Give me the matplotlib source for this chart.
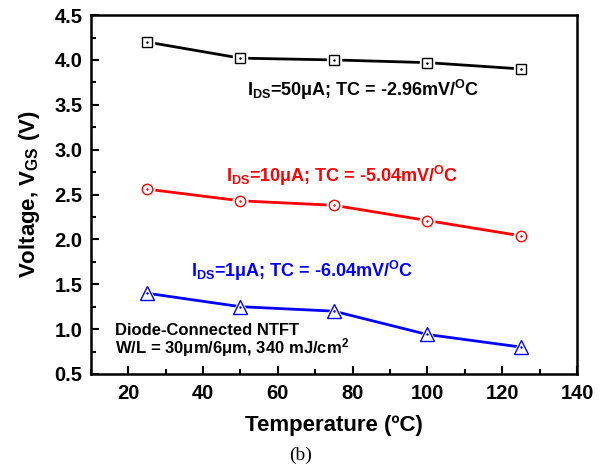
import matplotlib
matplotlib.use("Agg")
import matplotlib.pyplot as plt
from matplotlib.ticker import MultipleLocator

# datos
temperatura = [25, 50, 75, 100, 125]
vgs_50uA = [4.20, 4.02, 4.00, 3.97, 3.90]
vgs_10uA = [2.56, 2.43, 2.38, 2.21, 2.04]
vgs_1uA = [1.40, 1.25, 1.20, 0.94, 0.80]

etiquetas = [r"I$_{\mathregular{DS}}$=50μA; TC = -2.96mV/$^{\mathregular{O}}$C",
             r"I$_{\mathregular{DS}}$=10μA; TC = -5.04mV/$^{\mathregular{O}}$C",
             r"I$_{\mathregular{DS}}$=1μA; TC = -6.04mV/$^{\mathregular{O}}$C"]

plt.rcParams['font.family'] = ['Liberation Sans', 'DejaVu Sans']
plt.rcParams['font.weight'] = 'bold'
plt.rcParams['mathtext.fontset'] = 'custom'
plt.rcParams['mathtext.rm'] = 'Liberation Sans:bold'
plt.rcParams['mathtext.it'] = 'Liberation Sans:bold'
plt.rcParams['mathtext.bf'] = 'Liberation Sans:bold'

fig = plt.figure(figsize=(6.01, 4.71), dpi=100)
ax = fig.add_axes([0.151, 0.206, 0.809, 0.762])

#-----------------------------------------------------------------------------------------------
series = [(vgs_50uA, 'black', 's', 6.5), (vgs_10uA, '#ff0000', 'o', 7.5), (vgs_1uA, '#0000ff', '^', 9.5)]
for valores, color, marca, tam in series:
    ax.plot(temperatura, valores, color=color, lw=2, zorder=2)
    # hueco blanco alrededor del marcador
    ax.plot(temperatura, valores, ls='none', marker=marca, ms=tam + 3, mfc='white', mec='white', zorder=3)
    ax.plot(temperatura, valores, ls='none', marker=marca, ms=tam, mfc='white', mec=color, mew=1, zorder=4)
    ax.plot(temperatura, valores, ls='none', marker='.', ms=1.5, color=color, zorder=5)

#-----------------------------------------------------------------------------------------------
ax.text(82.7, 3.66, etiquetas[0], color='black', fontsize=13, ha='center', va='center')
ax.text(77.3, 2.71, etiquetas[1], color='#ff0000', fontsize=13, ha='center', va='center')
ax.text(66.5, 1.65, etiquetas[2], color='#0000ff', fontsize=13, ha='center', va='center')
ax.text(16.5, 0.99, "Diode-Connected NTFT", fontsize=12, ha='left', va='center')
ax.text(16.5, 0.79, r"W/L = 30μm/6μm, 340 mJ/cm$^{\mathregular{2}}$", fontsize=12, ha='left', va='center')

#-----------------------------------------------------------------------------------------------
ax.set_xlim(10, 140)
ax.set_ylim(0.5, 4.5)
ax.xaxis.set_major_locator(MultipleLocator(20))
ax.xaxis.set_minor_locator(MultipleLocator(10))
ax.yaxis.set_major_locator(MultipleLocator(0.5))
ax.yaxis.set_minor_locator(MultipleLocator(0.25))
ax.yaxis.set_major_formatter(matplotlib.ticker.FormatStrFormatter('%.1f'))
ax.tick_params(which='major', direction='in', length=6, width=1.5, labelsize=14.5)
ax.tick_params(axis='x', which='major', pad=7)
ax.tick_params(axis='y', which='major', pad=6)
ax.tick_params(which='minor', direction='in', length=3.5, width=1.5)
for s in ax.spines.values():
    s.set_linewidth(1.8)

ax.set_xlabel("Temperature (ºC)", fontsize=16, fontweight='bold', labelpad=9)
ax.set_ylabel(r"Voltage, V$_{\mathregular{GS}}$ (V)", fontsize=16, fontweight='bold', labelpad=9)

fig.text(0.5, 0.033, "(b)", family='Liberation Serif', fontweight='normal', fontsize=14, ha='center', va='center')

fig.savefig("out.png", dpi=100)
